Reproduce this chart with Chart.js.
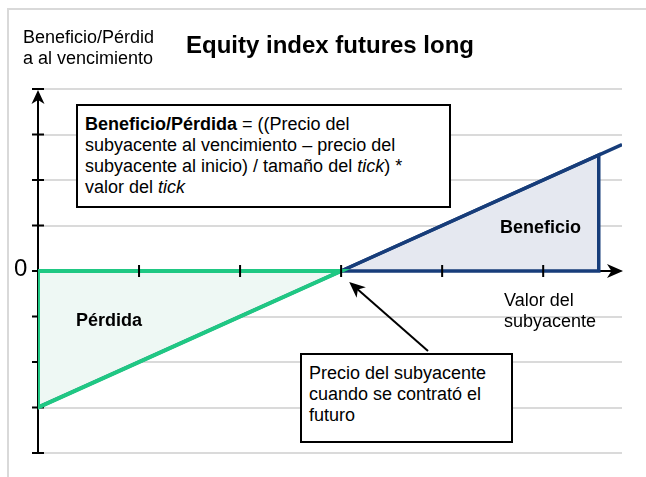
<!DOCTYPE html>
<html>
<head>
<meta charset="utf-8">
<script src="https://cdn.jsdelivr.net/npm/chart.js@4.4.1/dist/chart.umd.min.js"></script>
<style>
body { margin: 0; background: #fff; font-family: Arial, "Liberation Sans", sans-serif; }
#wrap { position: relative; width: 646px; height: 477px; overflow: hidden; }
#marco { position: absolute; left: 7px; top: 8px; width: 700px; height: 500px;
  border-left: 2px solid #d9d9d9; border-top: 2px solid #d9d9d9; }
canvas { position: absolute; left: 0; top: 0; }
.txt { position: absolute; font-size: 18px; line-height: 21px; color: #000; white-space: nowrap; }
.caja { position: absolute; box-sizing: border-box; border: 2px solid #000; background: #fff;
  font-size: 18px; line-height: 21px; white-space: nowrap; padding: 8px 0 0 7px; }
</style>
</head>
<body>
<div id="wrap">
  <div id="marco"></div>
  <canvas id="grafico" width="646" height="477"></canvas>
  <div class="txt" style="left:23px; top:27px;">Beneficio/Pérdid<br>a al vencimiento</div>
  <div class="caja" style="left:76px; top:104px; width:375px; height:104px;"><b>Beneficio/Pérdida</b> = ((Precio del<br>subyacente al vencimiento – precio del<br>subyacente al inicio) / tamaño del <i>tick</i>) *<br>valor del <i>tick</i></div>
  <div class="caja" style="left:300px; top:353px; width:213px; height:90px;">Precio del subyacente<br>cuando se contrató el<br>futuro</div>
  <div class="txt" style="left:500px; top:217px; font-weight:bold;">Beneficio</div>
  <div class="txt" style="left:76px; top:310px; font-weight:bold;">Pérdida</div>
  <div class="txt" style="left:504px; top:290px;">Valor del<br>subyacente</div>
  <div class="txt" style="left:14px; top:255px; font-size:24px; line-height:26px;">0</div>
</div>
<script>
// datos
var precioSubyacente = [0, 3, 5.78];
var resultado = [-3, 0, 2.78];
var perdidaX = [0, 0, 3, 0];
var perdidaY = [0, -3, 0, 0];
var beneficioX = [3, 5.55, 5.55, 3];
var beneficioY = [0, 0, 2.55, 0];
var marcasX = [1, 2, 3, 4, 5];
var marcasY = [-4, -3, -2, -1, 0, 1, 2, 3, 4];
var flechaNota = { desde: [3.86, -1.76], hasta: [3.08, -0.24] };

var verde = '#1fc883', verdeClaro = '#eef8f4';
var azul = '#173d7a', azulClaro = '#e5e8f0';

function puntos(xs, ys) {
  return xs.map((x, i) => ({ x: x, y: ys[i] }));
}

function punta(ctx, x, y, ang, largo, ancho) {
  ctx.save();
  ctx.translate(x, y);
  ctx.rotate(ang);
  ctx.beginPath();
  ctx.moveTo(0, 0);
  ctx.lineTo(-largo, -ancho / 2);
  ctx.lineTo(-largo * 0.72, 0);
  ctx.lineTo(-largo, ancho / 2);
  ctx.closePath();
  ctx.fill();
  ctx.restore();
}

/* ejes dibujados con las escalas */
var ejes = {
  id: 'ejes',
  beforeDatasetsDraw(chart) {
    var ctx = chart.ctx, sx = chart.scales.x, sy = chart.scales.y;
    var x0 = sx.getPixelForValue(0), y0 = sy.getPixelForValue(0);
    var yTop = sy.getPixelForValue(marcasY[marcasY.length - 1]);
    var yBot = sy.getPixelForValue(marcasY[0]);
    var xEnd = sx.getPixelForValue(sx.max);
    ctx.save();
    ctx.strokeStyle = '#000';
    ctx.fillStyle = '#000';
    ctx.lineWidth = 2;
    ctx.beginPath();
    ctx.moveTo(x0, yBot);
    ctx.lineTo(x0, yTop + 8);
    ctx.moveTo(x0, y0);
    ctx.lineTo(xEnd - 8, y0);
    marcasY.forEach((v) => {
      var y = sy.getPixelForValue(v);
      ctx.moveTo(x0 - 6, y);
      ctx.lineTo(x0 + 6, y);
    });
    ctx.stroke();
    punta(ctx, x0, yTop + 1, -Math.PI / 2, 14, 13);
    punta(ctx, xEnd + 1, y0, 0, 16, 14);
    ctx.restore();
  },
  afterDatasetsDraw(chart) {
    var ctx = chart.ctx, sx = chart.scales.x, sy = chart.scales.y;
    var y0 = sy.getPixelForValue(0);
    ctx.save();
    ctx.strokeStyle = '#000';
    ctx.fillStyle = '#000';
    ctx.lineWidth = 2;
    ctx.beginPath();
    marcasX.forEach((v) => {
      var x = sx.getPixelForValue(v);
      ctx.moveTo(x, y0 - 6);
      ctx.lineTo(x, y0 + 6);
    });
    ctx.stroke();
    // flecha de la nota
    var ax = sx.getPixelForValue(flechaNota.desde[0]), ay = sy.getPixelForValue(flechaNota.desde[1]);
    var bx = sx.getPixelForValue(flechaNota.hasta[0]), by = sy.getPixelForValue(flechaNota.hasta[1]);
    var ang = Math.atan2(by - ay, bx - ax);
    ctx.beginPath();
    ctx.moveTo(ax, ay);
    ctx.lineTo(bx - Math.cos(ang) * 10, by - Math.sin(ang) * 10);
    ctx.stroke();
    punta(ctx, bx, by, ang, 16, 14);
    ctx.restore();
  }
};

var datasetses = [
  {
    label: 'contornoPerdida',
    data: puntos(perdidaX, perdidaY),
    showLine: true,
    borderColor: verde,
    borderWidth: 4,
    borderJoinStyle: 'miter',
    pointRadius: 0,
    fill: false,
    order: 1
  },
  {
    label: 'contornoBeneficio',
    data: puntos(beneficioX, beneficioY),
    showLine: true,
    borderColor: azul,
    borderWidth: 3.5,
    borderJoinStyle: 'miter',
    pointRadius: 0,
    fill: false,
    order: 2
  },
  {
    label: 'resultado',
    data: puntos(precioSubyacente, resultado),
    showLine: true,
    borderColor: azul,
    borderWidth: 3.5,
    pointRadius: 0,
    fill: false,
    order: 3
  },
  {
    label: 'rellenoPerdida',
    data: puntos(perdidaX.slice(1, 3), perdidaY.slice(1, 3)),
    showLine: true,
    borderWidth: 0,
    borderColor: 'rgba(0,0,0,0)',
    backgroundColor: verdeClaro,
    pointRadius: 0,
    fill: 'origin',
    order: 5
  },
  {
    label: 'rellenoBeneficio',
    data: puntos([beneficioX[0], beneficioX[2]], [beneficioY[0], beneficioY[2]]),
    showLine: true,
    borderWidth: 0,
    borderColor: 'rgba(0,0,0,0)',
    backgroundColor: azulClaro,
    pointRadius: 0,
    fill: 'origin',
    order: 5
  }
];

var ctx = document.getElementById('grafico').getContext('2d');
var myChart = new Chart(ctx, {
  type: 'scatter',
  data: { datasets: datasetses },
  plugins: [ejes],
  options: {
    responsive: false,
    animation: false,
    devicePixelRatio: 1,
    layout: { padding: { left: 38, right: 24, top: 0, bottom: 24 } },
    plugins: {
      legend: { display: false },
      tooltip: { enabled: false },
      title: {
        display: true,
        text: 'Equity index futures long',
        color: '#000',
        font: { family: 'Arial, "Liberation Sans", sans-serif', size: 24, weight: 'bold', lineHeight: 1.2 },
        padding: { top: 32, bottom: 28.2 }
      }
    },
    scales: {
      x: { type: 'linear', min: 0, max: 5.78, display: false },
      y: {
        type: 'linear',
        min: -4,
        max: 4,
        display: true,
        border: { display: false },
        grid: { color: '#dadada', lineWidth: 2, drawTicks: false },
        ticks: { display: false, stepSize: 1 }
      }
    }
  }
});
</script>
</body>
</html>
